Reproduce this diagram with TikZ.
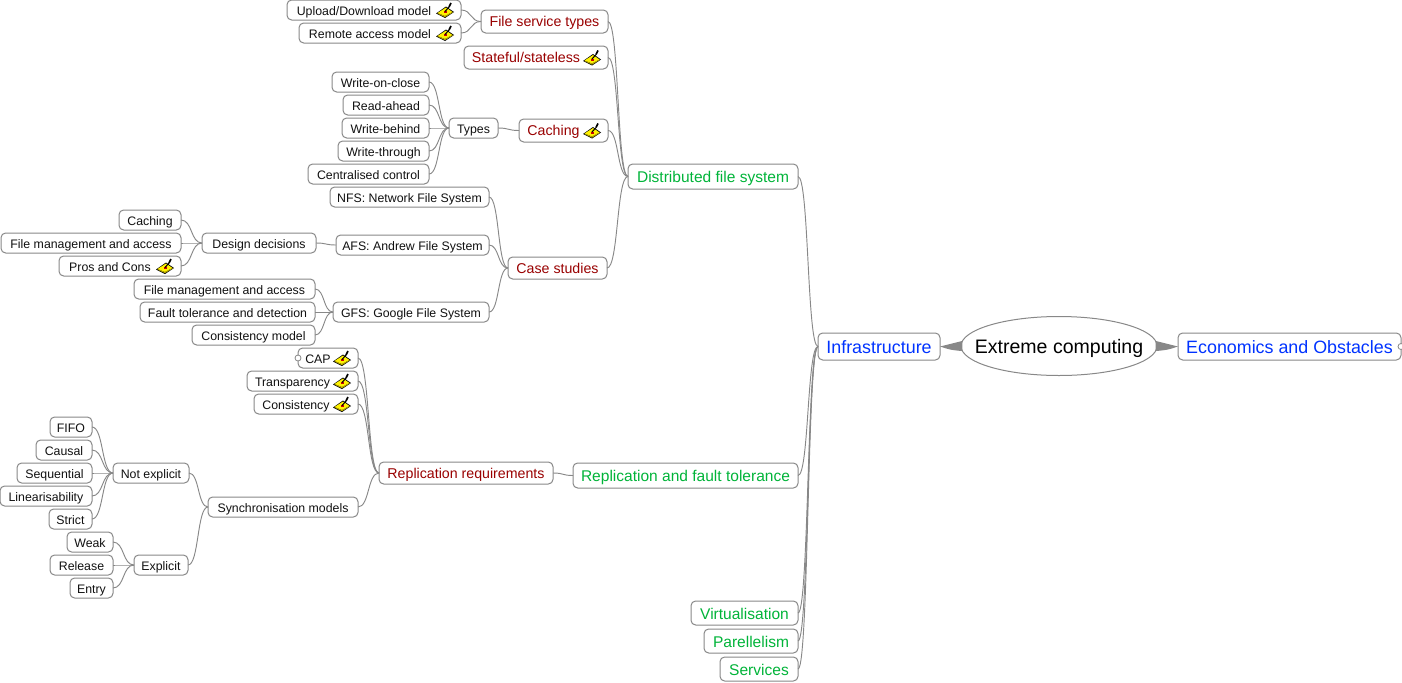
\documentclass[tikz,border=0pt]{standalone}
\usepackage{fontspec}
\setmainfont{Liberation Sans}
\usetikzlibrary{calc,shapes.geometric}
\definecolor{edgegray}{HTML}{888888}
\definecolor{lvA}{HTML}{0033FF}
\definecolor{lvB}{HTML}{00B439}
\definecolor{lvC}{HTML}{990000}
\definecolor{lvD}{HTML}{111111}
\definecolor{iconyellow}{HTML}{FFF200}
\definecolor{iconside}{HTML}{B8A800}
\tikzset{
  x=0.75pt,y=-0.75pt,
  mmbox/.style={draw=edgegray,fill=white,line width=0.75pt,rounded corners=3.5pt,inner sep=0pt,outer sep=0pt,anchor=center},
  lfour/.style={mmbox,text=lvD,font=\fontsize{9.25}{11}\selectfont,text height=7.75pt,text depth=0.25pt},
  lthree/.style={mmbox,text=lvC,font=\fontsize{10.65}{12}\selectfont,text height=8.8pt,text depth=1pt},
  ltwo/.style={mmbox,text=lvB,font=\fontsize{11.65}{14}\selectfont,text height=9.5pt,text depth=0.5pt},
  lone/.style={mmbox,text=lvA,font=\fontsize{13.4}{16}\selectfont,text height=11pt,text depth=1pt},
  rootnode/.style={ellipse,draw=edgegray,fill=white,line width=0.75pt,inner sep=0pt,outer sep=0pt,text=black,font=\fontsize{14.65}{18}\selectfont,text height=12pt,text depth=1pt},
  conn/.style={draw=edgegray,line width=0.7pt},
  fold/.style={circle,draw=edgegray,fill=white,line width=0.6pt,minimum size=4.5pt,inner sep=0pt},
  editicon/.pic={
    \fill[black] (-9,3.5) -- (1,-3.5) -- (9,2) -- (0,8) -- cycle;
    \fill[iconyellow] (-7.5,3) -- (1,-2.5) -- (7.5,2) -- (0,6) -- cycle;
    \fill[iconside] (-7.5,3.6) -- (0,7.2) -- (7.5,2.6) -- (7.5,2) -- (0,6) -- (-7.5,3) -- cycle;
    \fill[red!80!black] (-1,1) rectangle (2,3);
    \draw[black,line width=0.8pt] (0,1.5) -- (4,-3);
    \draw[black,line width=1.2pt] (4,-3) -- (6,-7);
  }
}
\newcommand{\mm}[7][]{%
  \node[#2,#1,minimum width={(#5-#4)*0.75pt},minimum height={(#7-#6)*0.75pt}] (#3) at ({(#4+#5)/2},{(#6+#7)/2})}
\newcommand{\icn}[1]{\pic at ([xshift=-12pt]#1.east) {editicon};}
\newcommand{\lnk}[2]{\draw[conn] let \p1=(#1.east),\p2=(#2.west),\n1={0.55*(\x2-\x1)} in (#1.east) .. controls ([xshift=\n1]#1.east) and ([xshift=-\n1]#2.west) .. (#2.west);}
\newcommand{\gapicon}{\hspace*{15pt}}
\begin{document}
\begin{tikzpicture}
\useasboundingbox (0,0) rectangle (1402,682);
% root and first level
\node[rootnode,minimum width={196*0.75pt},minimum height={59*0.75pt}] (root) at (1059,346) {\makebox[0pt]{Extreme computing}};
\mm{lone}{infra}{818}{940}{333}{360} {Infrastructure};
\mm{lone}{econ}{1178}{1401}{333}{360} {Economics and Obstacles};
% second level
\mm{ltwo}{dfs}{628}{798}{164}{189} {Distributed file system};
\mm{ltwo}{rft}{573}{798}{463}{488} {Replication and fault tolerance};
\mm{ltwo}{virt}{691}{798}{601}{625} {Virtualisation};
\mm{ltwo}{par}{704}{798}{629}{653} {Parellelism};
\mm{ltwo}{serv}{720}{798}{657}{681} {Services};
% third level
\mm{lthree}{fst}{481}{608}{10}{33} {File service types};
\mm{lthree}{state}{464}{608}{46}{69} {Stateful/stateless\gapicon};
\mm{lthree}{cach}{519}{608}{119}{142} {Caching\gapicon};
\mm{lthree}{case}{508}{607}{257}{279} {Case studies};
\mm{lthree}{rr}{379}{553}{462}{484} {Replication requirements};
% fourth level
\mm{lfour}{upl}{287}{461}{0}{20} {Upload/Download model\gapicon};
\mm{lfour}{rem}{299}{461}{23}{43} {Remote access model\gapicon};
\mm{lfour}{woc}{332}{429}{72}{92} {Write-on-close};
\mm{lfour}{ra}{343}{429}{95}{115} {Read-ahead};
\mm{lfour}{wb}{342}{429}{118}{138} {Write-behind};
\mm{lfour}{wt}{338}{429}{141}{161} {Write-through};
\mm{lfour}{cc}{308}{429}{164}{184} {Centralised control};
\mm{lfour}{types}{449}{498}{118}{138} {Types};
\mm{lfour}{nfs}{330}{489}{187}{207} {NFS: Network File System};
\mm{lfour}{afs}{336}{489}{235}{255} {AFS: Andrew File System};
\mm{lfour}{gfs}{333}{489}{302}{322} {GFS: Google File System};
\mm{lfour}{dd}{202}{316}{233}{253} {Design decisions};
\mm{lfour}{cachb}{119}{181}{210}{230} {Caching};
\mm{lfour}{fma}{1}{181}{233}{253} {File management and access};
\mm{lfour}{pros}{59}{181}{256}{276} {Pros and Cons\gapicon};
\mm{lfour}{fmb}{134}{315}{279}{299} {File management and access};
\mm{lfour}{ft}{140}{315}{302}{322} {Fault tolerance and detection};
\mm{lfour}{cm}{192}{315}{325}{345} {Consistency model};
\mm{lfour}{cap}{298}{358}{348}{368} {CAP\gapicon};
\mm{lfour}{transp}{247}{358}{371}{391} {Transparency\gapicon};
\mm{lfour}{cons}{254}{358}{394}{414} {Consistency\gapicon};
\mm{lfour}{sync}{208}{358}{497}{517} {Synchronisation models};
\mm{lfour}{ne}{113}{189}{463}{483} {Not explicit};
\mm{lfour}{ex}{134}{188}{555}{575} {Explicit};
\mm{lfour}{fifo}{50}{92}{417}{437} {FIFO};
\mm{lfour}{causal}{36}{92}{440}{460} {Causal};
\mm{lfour}{seq}{17}{92}{463}{483} {Sequential};
\mm{lfour}{lin}{0}{92}{486}{506} {Linearisability};
\mm{lfour}{strict}{49}{92}{509}{529} {Strict};
\mm{lfour}{weak}{67}{113}{532}{552} {Weak};
\mm{lfour}{rel}{50}{113}{555}{575} {Release};
\mm{lfour}{entry}{70}{113}{578}{598} {Entry};
% icons
\icn{state}\icn{cach}\icn{upl}\icn{rem}\icn{pros}\icn{cap}\icn{transp}\icn{cons}
% folding marks
\node[fold] (capfold) at (cap.west) {};
\node[fold] (econfold) at (econ.east) {};
% connectors
\foreach \a/\b in {upl/fst,rem/fst,fst/dfs,state/dfs,cach/dfs,case/dfs,
  woc/types,ra/types,wb/types,wt/types,cc/types,types/cach,
  nfs/case,afs/case,gfs/case,cachb/dd,fma/dd,pros/dd,dd/afs,fmb/gfs,ft/gfs,cm/gfs,
  cap/rr,transp/rr,cons/rr,sync/rr,rr/rft,ne/sync,ex/sync,
  fifo/ne,causal/ne,seq/ne,lin/ne,strict/ne,weak/ex,rel/ex,entry/ex,
  dfs/infra,rft/infra,virt/infra,par/infra,serv/infra}{\lnk{\a}{\b}}
% tapered root connectors
\fill[edgegray] (infra.east) .. controls ([shift={(8pt,2.6pt)}]infra.east) .. ([shift={(1pt,3.8pt)}]root.west) -- ([shift={(1pt,-3.8pt)}]root.west) .. controls ([shift={(8pt,-2.6pt)}]infra.east) .. (infra.east);
\fill[edgegray] (econ.west) .. controls ([shift={(-8pt,2.6pt)}]econ.west) .. ([shift={(-1pt,3.8pt)}]root.east) -- ([shift={(-1pt,-3.8pt)}]root.east) .. controls ([shift={(-8pt,-2.6pt)}]econ.west) .. (econ.west);
\end{tikzpicture}
\end{document}
